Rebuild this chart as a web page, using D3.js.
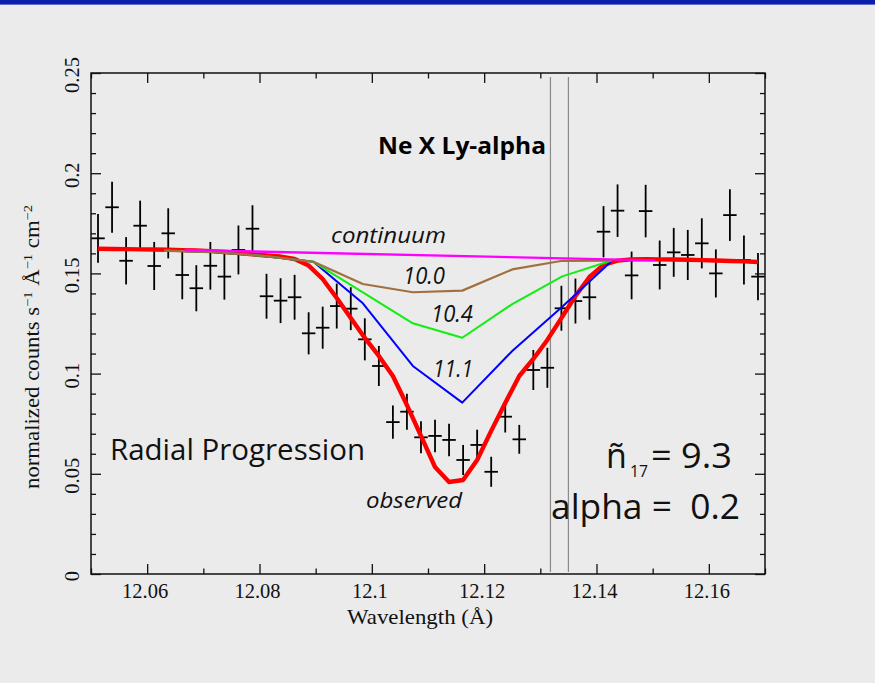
<!DOCTYPE html>
<html>
<head>
<meta charset="utf-8">
<script src="https://cdn.jsdelivr.net/npm/d3@7"></script>
<style>
  html, body { margin: 0; padding: 0; background: #ebebeb; }
  svg { display: block; }
</style>
</head>
<body>
<div id="chart"></div>
<script>
// ---------------- DATA ----------------
const wavelengths = [12.05125, 12.05375, 12.05625, 12.05875, 12.06125, 12.06375, 12.06625, 12.06875,
  12.07125, 12.07375, 12.07625, 12.07875, 12.08125, 12.08375, 12.08625, 12.08875,
  12.09125, 12.09375, 12.09625, 12.09875, 12.10125, 12.10375, 12.10625, 12.10875,
  12.11125, 12.11375, 12.11625, 12.11875, 12.12125, 12.12375, 12.12625, 12.12875,
  12.13125, 12.13375, 12.13625, 12.13875, 12.14125, 12.14375, 12.14625, 12.14875,
  12.15125, 12.15375, 12.15625, 12.15875, 12.16125, 12.16375, 12.16625, 12.16875];
const binHalfWidth = 0.0012;
const observedCounts = [0.1675, 0.1830, 0.1563, 0.1738, 0.1537, 0.1700, 0.1492, 0.1426,
  0.1538, 0.1484, 0.1617, 0.1723, 0.1386, 0.1364, 0.1381, 0.1201,
  0.1229, 0.1337, 0.1324, 0.1171, 0.1038, 0.0758, 0.0810, 0.0682,
  0.0689, 0.0669, 0.0569, 0.0644, 0.0510, 0.0785, 0.0672, 0.1018,
  0.1029, 0.1326, 0.1362, 0.1381, 0.1708, 0.1813, 0.1490, 0.1811,
  0.1542, 0.1605, 0.1592, 0.1650, 0.1500, 0.1791, 0.1567, 0.1484];
const countErrors = [0.0122, 0.0127, 0.0118, 0.0125, 0.0120, 0.0125, 0.0121, 0.0115,
  0.0119, 0.0115, 0.0122, 0.0117, 0.0112, 0.0112, 0.0112, 0.0105,
  0.0105, 0.0112, 0.0107, 0.0105, 0.0100, 0.0083, 0.0090, 0.0080,
  0.0081, 0.0081, 0.0075, 0.0076, 0.0075, 0.0079, 0.0072, 0.0100,
  0.0100, 0.0112, 0.0112, 0.0112, 0.0128, 0.0131, 0.0119, 0.0131,
  0.0122, 0.0122, 0.0125, 0.0125, 0.0120, 0.0129, 0.0122, 0.0118];
// best-fit model ("observed") evaluated at each bin
const observedFit = [0.1623, 0.1622, 0.1621, 0.1620, 0.1619, 0.1618, 0.1616, 0.1614,
  0.1611, 0.1607, 0.1602, 0.1595, 0.1589, 0.1584, 0.1572, 0.1539,
  0.1472, 0.1377, 0.1277, 0.1178, 0.1088, 0.0988, 0.0843, 0.0689,
  0.0534, 0.0459, 0.0469, 0.0569, 0.0714, 0.0853, 0.0988, 0.1073,
  0.1168, 0.1277, 0.1387, 0.1482, 0.1542, 0.1564, 0.1570, 0.1571,
  0.1570, 0.1569, 0.1568, 0.1566, 0.1564, 0.1562, 0.1560, 0.1557];
// radial progression models on a coarser grid
const modelWavelengths = [12.0630, 12.0718, 12.0807, 12.0896, 12.0984, 12.1073, 12.1161, 12.1250, 12.1339, 12.1427];
const model100 = [0.1614, 0.1607, 0.1587, 0.1558, 0.1447, 0.1406, 0.1414, 0.1520, 0.1563, 0.1564];
const model104 = [0.1614, 0.1607, 0.1587, 0.1558, 0.1405, 0.1251, 0.1179, 0.1347, 0.1485, 0.1564];
const model111 = [0.1614, 0.1607, 0.1587, 0.1558, 0.1351, 0.1038, 0.0855, 0.1113, 0.1334, 0.1562];
const continuumWavelengths = [12.0667, 12.1504];
const continuumValues = [0.1617, 0.1565];
const markerWavelengths = [12.1318, 12.1350];
const markerRange = [0.001, 0.248];
// axes
const xTicks = [12.06, 12.08, 12.10, 12.12, 12.14, 12.16];
const xTickLabels = ["12.06", "12.08", "12.1", "12.12", "12.14", "12.16"];
const xMinorTicks = [12.05, 12.07, 12.09, 12.11, 12.13, 12.15, 12.17];
const yTicks = [0, 0.05, 0.10, 0.15, 0.20, 0.25];
const yTickLabels = ["0", "0.05", "0.1", "0.15", "0.2", "0.25"];
const yMinorTicks = [0.01,0.02,0.03,0.04,0.06,0.07,0.08,0.09,0.11,0.12,0.13,0.14,0.16,0.17,0.18,0.19,0.21,0.22,0.23,0.24];

// ---------------- LAYOUT ----------------
const W = 875, H = 683;
const L = 91, R = 765, T = 73, B = 574;
const svg = d3.select("#chart").append("svg").attr("width", W).attr("height", H);
svg.append("rect").attr("width", W).attr("height", H).attr("fill", "#ebebeb");
svg.append("rect").attr("width", W).attr("height", 4.6).attr("fill", "#0a1fae");

const x = d3.scaleLinear().domain([12.05, 12.17]).range([L, R]);
const y = d3.scaleLinear().domain([0, 0.25]).range([B, T]);

// vertical marker lines
svg.append("g").selectAll("line").data(markerWavelengths).join("line")
  .attr("x1", d => x(d)).attr("x2", d => x(d))
  .attr("y1", y(markerRange[0])).attr("y2", y(markerRange[1]))
  .attr("stroke", "#8a8a8a").attr("stroke-width", 1.2);

// data crosses
const pts = wavelengths.map((w, i) => ({w, v: observedCounts[i], e: countErrors[i]}));
const gPts = svg.append("g").attr("stroke", "#000").attr("stroke-width", 1.8);
gPts.selectAll("line.h").data(pts).join("line").attr("class", "h")
  .attr("x1", d => x(d.w - binHalfWidth)).attr("x2", d => x(d.w + binHalfWidth))
  .attr("y1", d => y(d.v)).attr("y2", d => y(d.v));
gPts.selectAll("line.v").data(pts).join("line").attr("class", "v")
  .attr("x1", d => x(d.w)).attr("x2", d => x(d.w))
  .attr("y1", d => y(d.v - d.e)).attr("y2", d => y(d.v + d.e));

const line = d3.line().x(d => x(d[0])).y(d => y(d[1]));
function drawLine(xs, ys, color, width) {
  svg.append("path").datum(xs.map((w, i) => [w, ys[i]]))
    .attr("d", line).attr("fill", "none").attr("stroke", color)
    .attr("stroke-width", width).attr("stroke-linejoin", "round");
}
drawLine(wavelengths, observedFit, "#ff0000", 4.4);
drawLine(modelWavelengths, model111, "#0000ff", 2);
drawLine(modelWavelengths, model104, "#11ee11", 2);
drawLine(modelWavelengths, model100, "#a2703f", 2.2);
drawLine(continuumWavelengths, continuumValues, "#ff00ff", 2.4);

// ---------------- AXES ----------------
const axisColor = "#111";
function styleAxis(g) {
  g.select(".domain").remove();
  g.selectAll(".tick line").attr("stroke", axisColor).attr("stroke-width", 1.3);
  g.selectAll("text").remove();
}
svg.append("g").attr("transform", `translate(0,${B})`)
  .call(d3.axisBottom(x).tickValues(xTicks).tickSize(-10)).call(styleAxis);
svg.append("g").attr("transform", `translate(0,${B})`)
  .call(d3.axisBottom(x).tickValues(xMinorTicks).tickSize(-5.5)).call(styleAxis);
svg.append("g").attr("transform", `translate(0,${T})`)
  .call(d3.axisTop(x).tickValues(xTicks).tickSize(-10)).call(styleAxis);
svg.append("g").attr("transform", `translate(0,${T})`)
  .call(d3.axisTop(x).tickValues(xMinorTicks).tickSize(-5.5)).call(styleAxis);
svg.append("g").attr("transform", `translate(${L},0)`)
  .call(d3.axisLeft(y).tickValues(yTicks).tickSize(-10)).call(styleAxis);
svg.append("g").attr("transform", `translate(${L},0)`)
  .call(d3.axisLeft(y).tickValues(yMinorTicks).tickSize(-5)).call(styleAxis);
svg.append("g").attr("transform", `translate(${R},0)`)
  .call(d3.axisRight(y).tickValues(yTicks).tickSize(-10)).call(styleAxis);
svg.append("g").attr("transform", `translate(${R},0)`)
  .call(d3.axisRight(y).tickValues(yMinorTicks).tickSize(-5)).call(styleAxis);

svg.append("rect").attr("x", L).attr("y", T).attr("width", R - L).attr("height", B - T)
  .attr("fill", "none").attr("stroke", axisColor).attr("stroke-width", 1.5);

const serif = "'Liberation Serif', 'Times New Roman', serif";
svg.append("g").selectAll("text").data(xTicks).join("text")
  .attr("x", d => x(d) - 2).attr("y", 598)
  .attr("text-anchor", "middle").attr("font-family", serif).attr("font-size", 20.5)
  .attr("fill", "#111").text((d, i) => xTickLabels[i]);
svg.append("g").selectAll("text").data(yTicks).join("text")
  .attr("transform", d => `translate(79,${y(d) + 2}) rotate(-90)`)
  .attr("text-anchor", "middle").attr("font-family", serif).attr("font-size", 20.5)
  .attr("fill", "#111").text((d, i) => yTickLabels[i]);

svg.append("text").attr("x", 420).attr("y", 624).attr("text-anchor", "middle")
  .attr("font-family", serif).attr("font-size", 21.5).attr("fill", "#111")
  .attr("textLength", 146).attr("lengthAdjust", "spacingAndGlyphs")
  .text("Wavelength (Å)");

const yl = svg.append("text").attr("transform", "translate(39,347) rotate(-90)")
  .attr("text-anchor", "middle").attr("font-family", serif).attr("font-size", 20.5).attr("fill", "#111")
  .attr("textLength", 284).attr("lengthAdjust", "spacingAndGlyphs");
yl.append("tspan").text("normalized counts s");
yl.append("tspan").attr("baseline-shift", "7").attr("font-size", 13).text("−1");
yl.append("tspan").text(" Å");
yl.append("tspan").attr("baseline-shift", "7").attr("font-size", 13).text("−1");
yl.append("tspan").text(" cm");
yl.append("tspan").attr("baseline-shift", "7").attr("font-size", 13).text("−2");

// ---------------- ANNOTATIONS ----------------
const sans = "'Open Sans', 'Noto Sans', sans-serif";
svg.append("text").attr("x", 378).attr("y", 154).attr("font-family", sans)
  .attr("font-weight", "bold").attr("font-size", 24).attr("fill", "#000")
  .attr("textLength", 168).attr("lengthAdjust", "spacingAndGlyphs").text("Ne X Ly-alpha");
function italicLabel(txt, xs, ys, size, len) {
  svg.append("text").attr("x", xs).attr("y", ys).attr("font-family", sans)
    .attr("font-style", "italic").attr("font-size", size).attr("fill", "#111")
    .attr("textLength", len).attr("lengthAdjust", "spacingAndGlyphs").text(txt);
}
italicLabel("continuum", 331, 243, 22, 115);
italicLabel("10.0", 403, 284, 23, 42);
italicLabel("10.4", 431, 322, 23, 42);
italicLabel("11.1", 433, 377, 23, 40);
italicLabel("observed", 366, 508, 22, 96);

svg.append("text").attr("x", 110).attr("y", 460).attr("font-family", sans)
  .attr("font-size", 29).attr("fill", "#111")
  .attr("textLength", 255).attr("lengthAdjust", "spacingAndGlyphs").text("Radial Progression");

const big = 34;
svg.append("text").attr("x", 606).attr("y", 468).attr("font-family", sans)
  .attr("font-size", big).attr("fill", "#111").text("ñ");
svg.append("text").attr("x", 630).attr("y", 477).attr("font-family", sans)
  .attr("font-size", 17).attr("fill", "#111")
  .attr("textLength", 18).attr("lengthAdjust", "spacingAndGlyphs").text("17");
svg.append("text").attr("x", 651).attr("y", 468).attr("font-family", sans)
  .attr("font-size", big).attr("fill", "#111")
  .attr("textLength", 81).attr("lengthAdjust", "spacingAndGlyphs").text("= 9.3");
svg.append("text").attr("x", 551).attr("y", 519).attr("font-family", sans)
  .attr("font-size", big).attr("fill", "#111")
  .attr("textLength", 189).attr("lengthAdjust", "spacingAndGlyphs")
  .style("white-space", "pre").text("alpha =  0.2");
</script>
</body>
</html>
